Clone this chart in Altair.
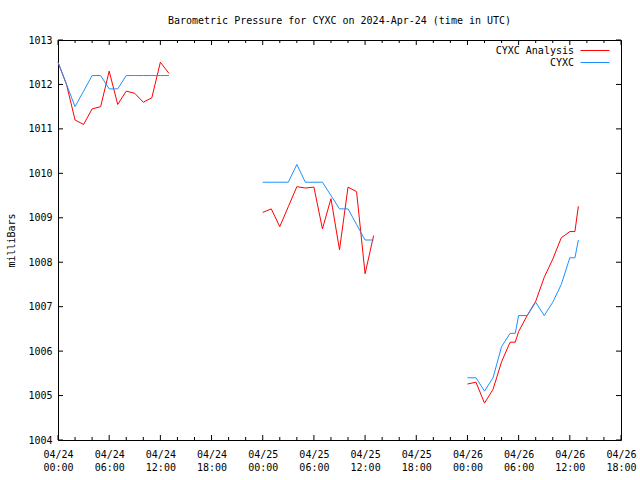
import altair as alt
import pandas as pd

# Hours since 2024-04-24 00:00 UTC, per data segment
seg1_hours = list(range(0, 14))
seg2_hours = list(range(24, 38))
seg3_hours = [48, 49, 50, 51, 52, 53, 53.6, 54, 55, 56, 57, 58, 59, 60, 60.6, 61]

# CYXC observations (mb)
cyxc_seg1 = [1012.5, 1012.0, 1011.5, 1011.85, 1012.2, 1012.2, 1011.9, 1011.9, 1012.2, 1012.2, 1012.2, 1012.2, 1012.2, 1012.2]
cyxc_seg2 = [1009.8, 1009.8, 1009.8, 1009.8, 1010.2, 1009.8, 1009.8, 1009.8, 1009.5, 1009.2, 1009.2, 1008.85, 1008.5, 1008.5]
cyxc_seg3 = [1005.4, 1005.4, 1005.1, 1005.4, 1006.1, 1006.4, 1006.4, 1006.8, 1006.8, 1007.1, 1006.8, 1007.1, 1007.5, 1008.1, 1008.1, 1008.5]

# CYXC Analysis (mb)
anal_seg1 = [1012.5, 1012.0, 1011.2, 1011.1, 1011.45, 1011.5, 1012.3, 1011.55, 1011.85, 1011.8, 1011.6, 1011.7, 1012.5, 1012.25]
anal_seg2 = [1009.12, 1009.2, 1008.8, 1009.25, 1009.7, 1009.67, 1009.69, 1008.75, 1009.43, 1008.28, 1009.69, 1009.59, 1007.74, 1008.6]
anal_seg3 = [1005.26, 1005.3, 1004.83, 1005.14, 1005.76, 1006.2, 1006.2, 1006.44, 1006.8, 1007.12, 1007.66, 1008.07, 1008.55, 1008.69, 1008.69, 1009.26]

x_major = list(range(0, 67, 6))
x_minor = [h for h in range(0, 67, 2) if h % 6 != 0]
y_major = list(range(1004, 1014))

title_text = "Barometric Pressure for CYXC on 2024-Apr-24 (time in UTC)"
series_names = ["CYXC Analysis", "CYXC"]
series_colors = ["#ff0000", "#1e8fff"]

rows = []
for name, segs in [("CYXC Analysis", [anal_seg1, anal_seg2, anal_seg3]), ("CYXC", [cyxc_seg1, cyxc_seg2, cyxc_seg3])]:
    for si, (hrs, vals) in enumerate(zip([seg1_hours, seg2_hours, seg3_hours], segs)):
        for h, v in zip(hrs, vals):
            rows.append({"hour": h, "mb": v, "series": name, "seg": si})
df = pd.DataFrame(rows)

FONT = "DejaVu Sans Mono"
W, H = 563, 400

xscale = alt.Scale(domain=[0, 66], nice=False, zero=False)
yscale = alt.Scale(domain=[1004, 1013], nice=False, zero=False)

label_expr = ("['04/' + (24 + floor(datum.value / 24)), "
              "(datum.value % 24 < 10 ? '0' : '') + (datum.value % 24) + ':00']")

xaxis = alt.Axis(values=x_major, labelExpr=label_expr, ticks=False, domain=False, grid=False,
                 labelFont=FONT, labelFontSize=10, labelColor="black", labelPadding=9,
                 labelLineHeight=13, labelBaseline="top", labelFlush=False, labelOverlap=False, title=None)
yaxis = alt.Axis(values=y_major, format="d", ticks=False, domain=False, grid=False,
                 labelFont=FONT, labelFontSize=10, labelColor="black", labelPadding=6,
                 title="milliBars", titleFont=FONT, titleFontSize=10, titleFontWeight="normal",
                 titleColor="black", titleAngle=-90, titleX=-47, titleY=200,
                 titleAlign="center", titleBaseline="middle")

X = alt.X("hour:Q", scale=xscale, axis=xaxis)
Y = alt.Y("mb:Q", scale=yscale, axis=yaxis)


def series_layer(name, color):
    return alt.Chart(df).transform_filter(alt.datum.series == name).mark_line(
        color=color, strokeWidth=1, interpolate="linear"
    ).encode(x=X, y=Y, detail="seg:N", order="hour:Q")


red = series_layer("CYXC Analysis", series_colors[0])
blue = series_layer("CYXC", series_colors[1])

xmaj_df = pd.DataFrame({"hour": x_major})
xmin_df = pd.DataFrame({"hour": x_minor})
ymaj_df = pd.DataFrame({"mb": y_major})


def xticks(d, y0, y1):
    return alt.Chart(d).mark_rule(color="black", strokeWidth=1).encode(
        x=X, y=alt.value(y0), y2=alt.value(y1))


def yticks(x0, x1):
    return alt.Chart(ymaj_df).mark_rule(color="black", strokeWidth=1).encode(
        y=Y, x=alt.value(x0), x2=alt.value(x1))


ticks = [
    xticks(xmaj_df, H, H - 5), xticks(xmin_df, H, H - 3),
    xticks(xmaj_df, 0, 5), xticks(xmin_df, 0, 3),
    yticks(0, 5), yticks(W, W - 5),
]

one = pd.DataFrame({"k": [0]})
legend_layers = []
for i, (name, color) in enumerate(zip(series_names, series_colors)):
    yy = 10.5 + 12 * i
    legend_layers.append(alt.Chart(one).mark_text(
        text=name, align="right", baseline="middle", font=FONT, fontSize=10, color="black"
    ).encode(x=alt.value(516), y=alt.value(yy)))
    legend_layers.append(alt.Chart(one).mark_rule(color=color, strokeWidth=1).encode(
        x=alt.value(522.5), x2=alt.value(551.5), y=alt.value(yy)))

title_layer = alt.Chart(one).mark_text(
    text=title_text, align="center", baseline="alphabetic", font=FONT, fontSize=10, color="black"
).encode(x=alt.value(W / 2), y=alt.value(-16))

chart = alt.layer(red, blue, *ticks, *legend_layers, title_layer).properties(
    width=W, height=H,
    padding={"left": 58, "top": 40, "right": 19, "bottom": 40},
    autosize=alt.AutoSizeParams(type="none"),
    background="white",
).configure_view(stroke="black", strokeWidth=1)

chart.save("out.html", embed_options={"renderer": "svg", "actions": False})
